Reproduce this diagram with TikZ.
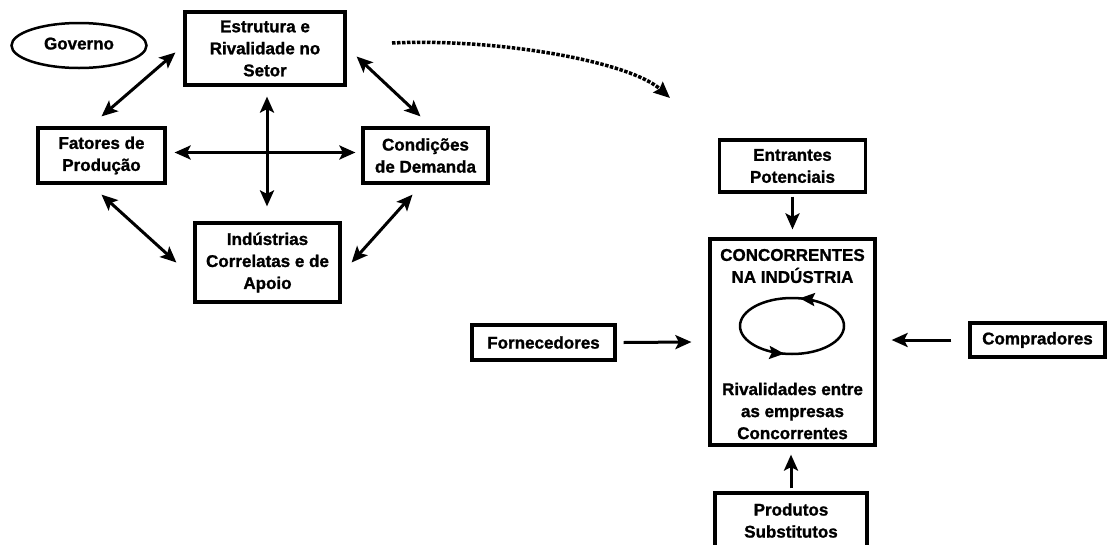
\documentclass[tikz,border=0pt]{standalone}
\usepackage{fontspec}
\setmainfont{Liberation Sans}[BoldFeatures={FakeBold=1.2}]
\usetikzlibrary{arrows.meta,shapes.geometric,decorations.markings,calc}
\begin{document}
\begin{tikzpicture}[x=1pt,y=-1pt,
  font=\fontsize{17}{22}\selectfont\bfseries,
  box/.style={draw,line width=3.2pt,align=center,inner sep=0pt},
  arr/.style={line width=3pt,-{Stealth[length=16pt,width=14pt,inset=3.5pt]}},
  darr/.style={line width=3pt,{Stealth[length=16pt,width=14pt,inset=3.5pt]}-{Stealth[length=16pt,width=14pt,inset=3.5pt]}},
  txt/.style={align=center,inner sep=0pt},
]
\useasboundingbox (0,0) rectangle (1109,544);

% ---------- left diagram ----------
\node[draw,ellipse,line width=2.5pt,minimum width=135pt,minimum height=45pt,inner sep=0pt] (gov) at (79,45.5) {\raisebox{4pt}{Governo}};
\node[box,minimum width=160pt,minimum height=73pt] (estr) at (265,48.5) {Estrutura e\\Rivalidade no\\Setor};
\node[box,minimum width=127pt,minimum height=55pt] (fat) at (101.5,155.5) {Fatores de\\Produção};
\node[box,minimum width=125pt,minimum height=55pt] (cond) at (425.5,155.5) {Condições\\de Demanda};
\node[box,minimum width=145pt,minimum height=79pt] (ind) at (267.5,262.5) {Indústrias\\Correlatas e de\\Apoio};

\draw[darr] ([xshift=-8pt,yshift=-4pt]estr.west) -- ([yshift=10pt]fat.north);
\draw[darr] ([xshift=10pt,yshift=-8pt]estr.east) -- ([xshift=-5pt,yshift=10pt]cond.north);
\draw[darr] ([xshift=2pt,yshift=-10pt]estr.south) -- ([xshift=-0.5pt,yshift=15pt]ind.north);
\draw[darr] ([xshift=8pt,yshift=3pt]fat.east) -- ([xshift=-6pt,yshift=3pt]cond.west);
\draw[darr] ([yshift=-10pt]fat.south) -- ([xshift=-17pt]ind.west);
\draw[darr] ([xshift=-13pt,yshift=-10pt]cond.south) -- ([xshift=10pt]ind.east);

% ---------- dotted link ----------
\coordinate (ds) at (392,43);
\coordinate (de) at (670,98);
\draw[line width=3.5pt,dash pattern=on 3.5pt off 1.5pt,-{Stealth[length=16pt,width=14pt,inset=2pt]}]
  (ds) .. controls (500,38) and (630,62) .. (de);

% ---------- right diagram ----------
\node[box,minimum width=146pt,minimum height=52pt] (ent) at (792.5,166) {Entrantes\\Potenciais};
\node[box,minimum width=165pt,minimum height=206pt] (conc) at (792.5,342) {};
\node[txt] (ctitle) at (792.5,266) {CONCORRENTES\\NA INDÚSTRIA};
\node[txt] (criv) at (792.5,411) {Rivalidades entre\\as empresas\\Concorrentes};
\coordinate (ce) at (792,326);
\draw[line width=2.5pt,postaction={decorate},
  decoration={markings,
    mark=at position 0.22 with {\arrow{Stealth[length=15pt,width=13pt,inset=2.5pt]}},
    mark=at position 0.72 with {\arrow{Stealth[length=15pt,width=13pt,inset=2.5pt]}}}]
  (ce) ellipse [x radius=52pt, y radius=28pt];

\node[box,minimum width=143pt,minimum height=35pt] (forn) at (543.5,342.5) {Fornecedores};
\node[box,minimum width=135pt,minimum height=34pt] (comp) at (1037.5,340) {Compradores};
\node[box,minimum width=152pt,minimum height=55pt] (prod) at (791,520.5) {Produtos\\Substitutos};

\draw[arr] ([yshift=-3pt]ent.south) -- ([yshift=8pt]conc.north);
\draw[arr] ([yshift=3pt]prod.north) -- ([xshift=-1.5pt,yshift=-8pt]conc.south);
\draw[arr] ([xshift=7pt]forn.east) -- ([xshift=-17pt]conc.west);
\draw[arr] ([xshift=-17pt]comp.west) -- ([xshift=15pt,yshift=2pt]conc.east);
\end{tikzpicture}
\end{document}
